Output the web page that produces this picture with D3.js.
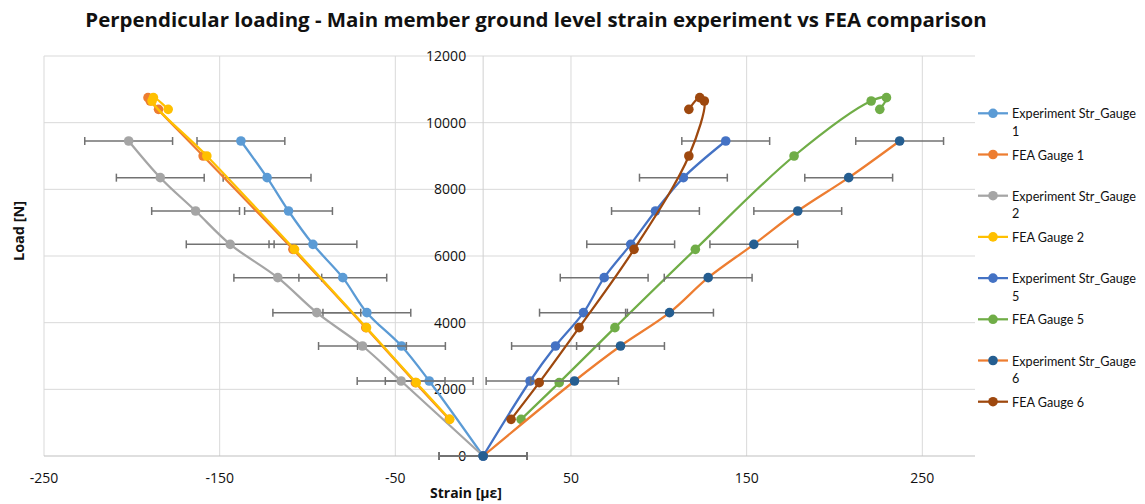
<!DOCTYPE html>
<html>
<head>
<meta charset="utf-8">
<script src="https://cdn.jsdelivr.net/npm/d3@7"></script>
<style>
  body { margin: 0; background: #fff; }
  svg { display: block; }
  text { font-family: "Open Sans", Lato, sans-serif; fill: #111; }
  .legend text { font-family: Lato, "Open Sans", sans-serif; }
</style>
</head>
<body>
<svg id="chart" width="1145" height="504"></svg>
<script>
// Axis ticks
const xTicks = [-250, -150, -50, 50, 150, 250];
const yTicks = [0, 2000, 4000, 6000, 8000, 10000, 12000];

// Applied loads [N]
const expLoads = [0, 2250, 3300, 4300, 5350, 6350, 7350, 8350, 9450];
const feaLoads = [1100, 2200, 3850, 6200, 9000, 10650, 10750, 10400];

// Measured strain [µε] per gauge
const exp1Strain = [0, -30.7, -46.5, -66.2, -79.9, -96.9, -110.8, -123.0, -137.9];
const exp2Strain = [0, -46.7, -68.7, -94.7, -116.9, -144.0, -163.7, -183.8, -201.8];
const exp5Strain = [0, 26.7, 41.2, 57.1, 68.9, 84.0, 98.1, 114.0, 138.1];
const exp6Strain = [0, 52.0, 78.2, 106.1, 128.1, 154.1, 179.1, 208.1, 237.1];

// FEA strain [µε] per gauge
const fea1Strain = [-19.3, -38.6, -66.8, -108.3, -159.4, -189.5, -190.8, -184.8];
const fea2Strain = [-19.0, -38.1, -66.4, -107.4, -157.3, -188.5, -187.7, -179.3];
const fea5Strain = [21.6, 43.3, 75.0, 120.8, 177.0, 220.9, 229.6, 225.8];
const fea6Strain = [15.9, 31.9, 54.6, 85.9, 117.1, 125.9, 123.3, 117.1];

// Gauge measurement uncertainty [µε]
const strainError = 25;

const seriesNames = [
  ["Experiment Str_Gauge", "1"], ["FEA Gauge 1"],
  ["Experiment Str_Gauge", "2"], ["FEA Gauge 2"],
  ["Experiment Str_Gauge", "5"], ["FEA Gauge 5"],
  ["Experiment Str_Gauge", "6"], ["FEA Gauge 6"]
];

const series = [
  { name: seriesNames[0], x: exp1Strain, y: expLoads, line: "#5B9BD5", marker: "#5B9BD5", err: true },
  { name: seriesNames[1], x: fea1Strain, y: feaLoads, line: "#ED7D31", marker: "#ED7D31", err: false },
  { name: seriesNames[2], x: exp2Strain, y: expLoads, line: "#A5A5A5", marker: "#A5A5A5", err: true },
  { name: seriesNames[3], x: fea2Strain, y: feaLoads, line: "#FFC000", marker: "#FFC000", err: false },
  { name: seriesNames[4], x: exp5Strain, y: expLoads, line: "#4472C4", marker: "#4472C4", err: true },
  { name: seriesNames[5], x: fea5Strain, y: feaLoads, line: "#70AD47", marker: "#70AD47", err: false },
  { name: seriesNames[6], x: exp6Strain, y: expLoads, line: "#ED7D31", marker: "#255E91", err: true },
  { name: seriesNames[7], x: fea6Strain, y: feaLoads, line: "#9E480E", marker: "#9E480E", err: false }
];

const svg = d3.select("#chart");
const plot = { left: 44, right: 975, top: 56, bottom: 456 };

const x = d3.scaleLinear().domain([-250, 280]).range([plot.left, plot.right]);
const y = d3.scaleLinear().domain([0, 12000]).range([plot.bottom, plot.top]);

// Scale a text's font size so that it spans the given width
function fitWidth(sel, width) {
  const node = sel.node();
  const size = parseFloat(sel.style("font-size"));
  const w = node.getComputedTextLength();
  if (w > 0) sel.style("font-size", (size * width / w).toFixed(2) + "px");
  return sel;
}

// Gridlines
const grid = svg.append("g");
grid.selectAll("line.h").data(yTicks.filter(d => d !== 0)).join("line")
  .attr("x1", plot.left).attr("x2", plot.right)
  .attr("y1", d => y(d)).attr("y2", d => y(d))
  .attr("stroke", "#D9D9D9").attr("stroke-width", 1);
grid.selectAll("line.v").data(xTicks).join("line")
  .attr("x1", d => x(d)).attr("x2", d => x(d))
  .attr("y1", plot.top).attr("y2", plot.bottom)
  .attr("stroke", "#D9D9D9").attr("stroke-width", 1);

// Zero axes
svg.append("line").attr("x1", plot.left).attr("x2", plot.right)
  .attr("y1", y(0)).attr("y2", y(0)).attr("stroke", "#BFBFBF").attr("stroke-width", 1.2);
svg.append("line").attr("x1", x(0)).attr("x2", x(0))
  .attr("y1", plot.top).attr("y2", plot.bottom).attr("stroke", "#D0D0D0").attr("stroke-width", 1);

// Tick labels
svg.append("g").selectAll("text").data(xTicks).join("text")
  .attr("x", d => x(d)).attr("y", 483)
  .attr("text-anchor", "middle").style("font-size", "14px")
  .text(d => d);
svg.append("g").selectAll("text").data(yTicks).join("text")
  .attr("x", x(0) - 17).attr("y", d => y(d) + 5)
  .attr("text-anchor", "end").style("font-size", "14px")
  .text(d => d);

// Titles
fitWidth(svg.append("text").attr("x", 536).attr("y", 27)
  .attr("text-anchor", "middle").style("font-size", "18px").style("font-weight", "bold")
  .text("Perpendicular loading  - Main  member ground level strain experiment vs FEA comparison"), 902);
fitWidth(svg.append("text").attr("x", 466).attr("y", 498)
  .attr("text-anchor", "middle").style("font-size", "13px").style("font-weight", "bold")
  .text("Strain [με]"), 72);
fitWidth(svg.append("text").attr("transform", "translate(24,231) rotate(-90)")
  .attr("text-anchor", "middle").style("font-size", "13px").style("font-weight", "bold")
  .text("Load [N]"), 60);

// Series
const lineGen = d3.line().x(d => x(d[0])).y(d => y(d[1])).curve(d3.curveCatmullRom.alpha(0.5));
const cap = 4;

series.forEach(s => {
  const pts = s.x.map((v, i) => [v, s.y[i]]);
  const g = svg.append("g");
  g.append("path").datum(pts).attr("d", lineGen)
    .attr("fill", "none").attr("stroke", s.line).attr("stroke-width", 2.25)
    .attr("stroke-linejoin", "round");
  if (s.err) {
    const eb = g.append("g").attr("stroke", "#727272").attr("stroke-width", 1.5);
    pts.forEach(p => {
      const lo = x(p[0] - strainError), hi = x(p[0] + strainError), py = y(p[1]);
      eb.append("line").attr("x1", lo).attr("x2", hi).attr("y1", py).attr("y2", py);
      eb.append("line").attr("x1", lo).attr("x2", lo).attr("y1", py - cap).attr("y2", py + cap);
      eb.append("line").attr("x1", hi).attr("x2", hi).attr("y1", py - cap).attr("y2", py + cap);
    });
  }
  g.selectAll("circle").data(pts).join("circle")
    .attr("cx", d => x(d[0])).attr("cy", d => y(d[1])).attr("r", 4.8)
    .attr("fill", s.marker);
});

// Legend
const legend = svg.append("g").attr("class", "legend");
let legendSize = null;
series.forEach((s, i) => {
  const cy = 113.3 + i * 41.2;
  const g = legend.append("g");
  g.append("line").attr("x1", 978).attr("x2", 1008).attr("y1", cy).attr("y2", cy)
    .attr("stroke", s.line).attr("stroke-width", 2.25);
  g.append("circle").attr("cx", 993).attr("cy", cy).attr("r", 4.8).attr("fill", s.marker);
  s.name.forEach((t, j) => {
    const txt = g.append("text").attr("x", 1012).attr("y", cy + 5 + j * 17.5)
      .style("font-size", legendSize || "13px").text(t);
    if (!legendSize && t.length > 12) {
      fitWidth(txt, 124);
      legendSize = txt.style("font-size");
    }
  });
});
legend.selectAll("text").style("font-size", legendSize);
</script>
</body>
</html>
